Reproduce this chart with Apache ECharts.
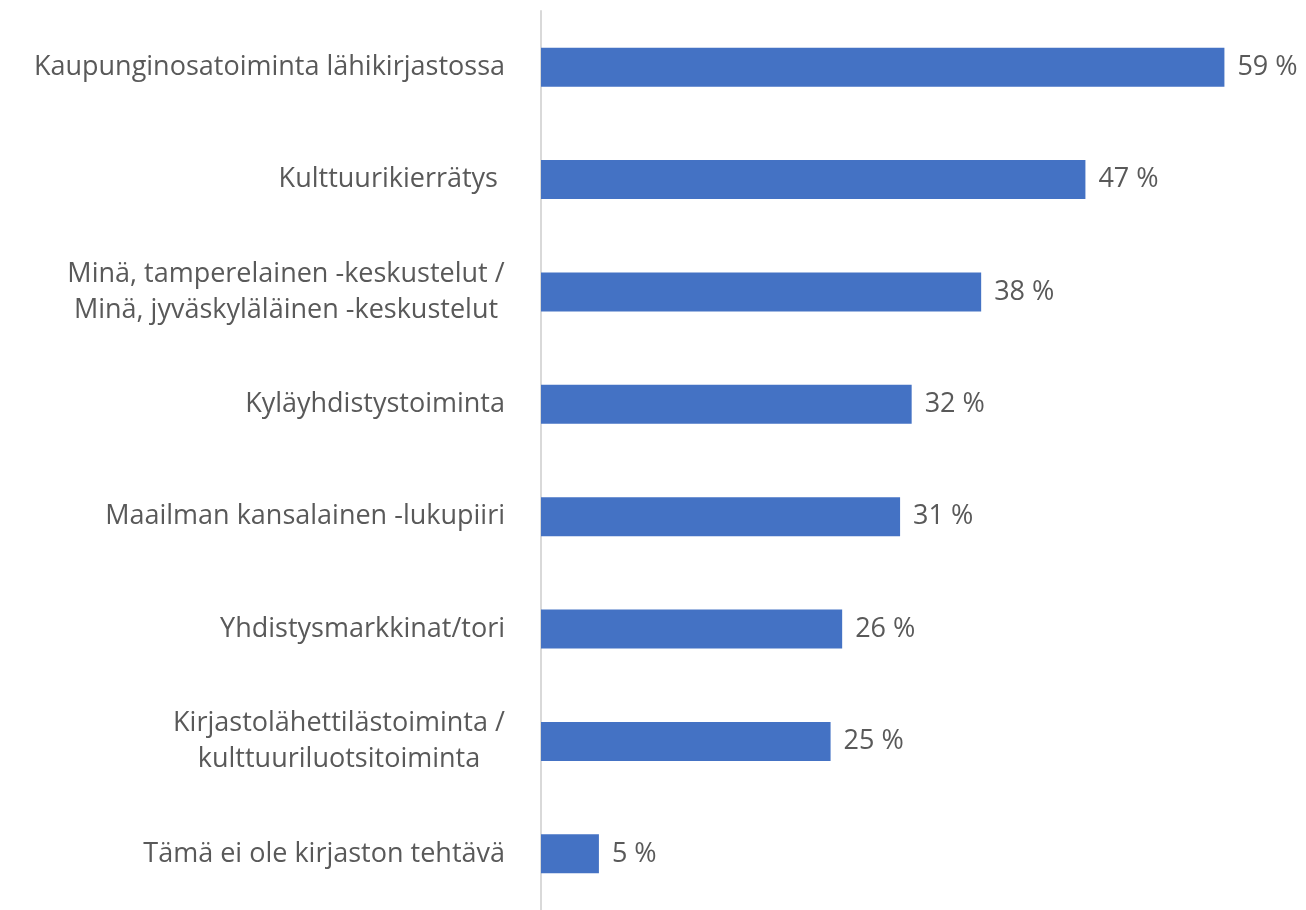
<!DOCTYPE html>
<html>
<head>
<meta charset="utf-8">
<script src="https://cdn.jsdelivr.net/npm/echarts@6/dist/echarts.min.js"></script>
<style>
  html, body { margin: 0; padding: 0; background: #fff; }
  #chart { width: 1306px; height: 910px; }
</style>
</head>
<body>
<div id="chart"></div>
<script>
  // categories top to bottom
  const categories = [
    'Kaupunginosatoiminta lähikirjastossa',
    'Kulttuurikierrätys ',
    'Minä, tamperelainen -keskustelut /\nMinä, jyväskyläläinen -keskustelut',
    'Kyläyhdistystoiminta',
    'Maailman kansalainen -lukupiiri',
    'Yhdistysmarkkinat/tori',
    'Kirjastolähettilästoiminta /\nkulttuuriluotsitoiminta',
    'Tämä ei ole kirjaston tehtävä'
  ];
  const values = [59, 47, 38, 32, 31, 26, 25, 5];

  const textColor = '#595959';
  const fontSize = 27;
  const ctx = document.createElement('canvas').getContext('2d');
  ctx.font = fontSize + 'px "Open Sans"';

  // widest line of a wrapped label, so the lines can be centred in one block
  const blockWidth = label =>
    Math.ceil(Math.max(...label.split('\n').map(l => ctx.measureText(l).width)));

  const rich = {};
  categories.forEach(cat => {
    if (cat.includes('\n')) {
      const w = blockWidth(cat);
      rich['c' + w] = {
        width: w,
        align: 'center',
        color: textColor,
        fontFamily: 'Open Sans',
        fontSize,
        lineHeight: 36
      };
    }
  });

  const labelFormatter = value => {
    if (!value.includes('\n')) return value;
    const w = blockWidth(value);
    return value.split('\n').map(l => `{c${w}|${l}}`).join('\n');
  };

  const chart = echarts.init(document.getElementById('chart'));

  chart.setOption({
    animation: false,
    grid: { left: 541, top: 11, width: 695, height: 904 },
    xAxis: {
      type: 'value',
      min: 0,
      max: 60,
      show: false
    },
    yAxis: {
      type: 'category',
      inverse: true,
      data: categories,
      axisLine: { lineStyle: { color: '#d9d9d9', width: 2 } },
      axisTick: { show: false },
      axisLabel: {
        color: textColor,
        fontFamily: 'Open Sans',
        fontSize,
        lineHeight: 36,
        margin: 36,
        align: 'right',
        formatter: labelFormatter,
        rich
      }
    },
    series: [
      {
        type: 'bar',
        data: values,
        barWidth: 39,
        itemStyle: { color: '#4472C4' },
        label: {
          show: true,
          position: 'right',
          distance: 13,
          formatter: p => p.value + ' %',
          color: textColor,
          fontFamily: 'Open Sans',
          fontSize
        }
      }
    ]
  });
</script>
</body>
</html>
